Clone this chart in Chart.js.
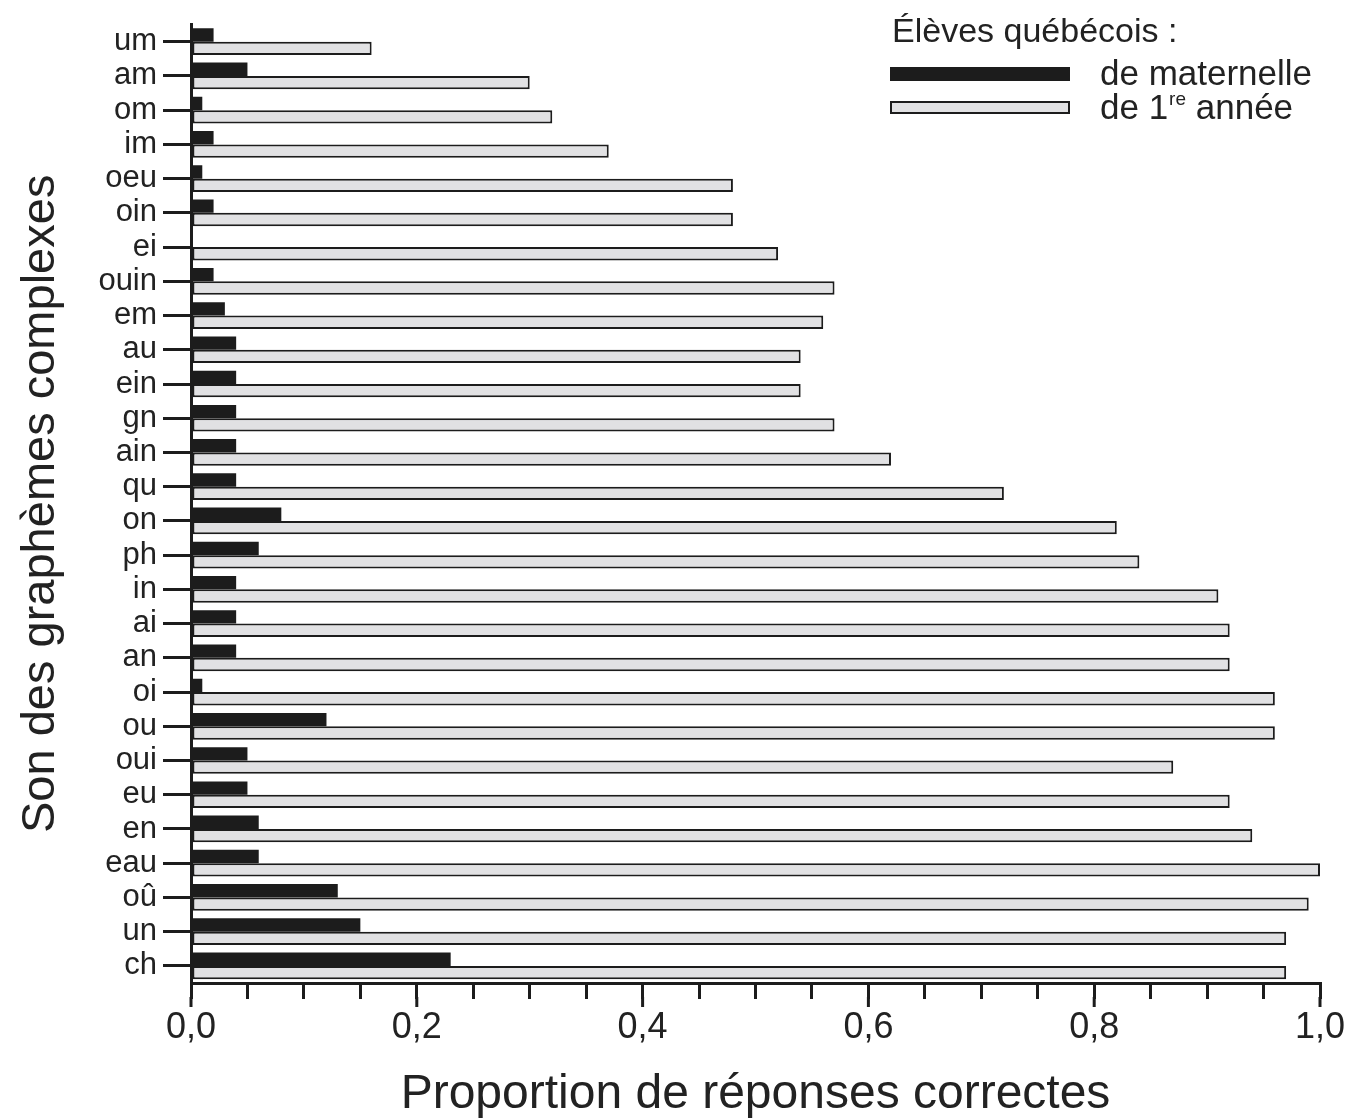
<!DOCTYPE html>
<html>
<head>
<meta charset="utf-8">
<script src="https://cdn.jsdelivr.net/npm/chart.js@4.4.1/dist/chart.umd.min.js"></script>
<style>
  body { margin: 0; background: #fff; }
  #wrap { width: 1349px; height: 1119px; }
</style>
</head>
<body>
<div id="wrap"><canvas id="chartSons" width="1349" height="1119"></canvas></div>
<script>
const sons = ["um", "am", "om", "im", "oeu", "oin", "ei", "ouin", "em", "au", "ein", "gn", "ain", "qu",
    "on", "ph", "in", "ai", "an", "oi", "ou", "oui", "eu", "en", "eau", "oû", "un", "ch"];
const maternelle = [0.02, 0.05, 0.01, 0.02, 0.01, 0.02, 0, 0.02, 0.03, 0.04, 0.04, 0.04, 0.04, 0.04,
    0.08, 0.06, 0.04, 0.04, 0.04, 0.01, 0.12, 0.05, 0.05, 0.06, 0.06, 0.13, 0.15, 0.23];
const premiere = [0.16, 0.30, 0.32, 0.37, 0.48, 0.48, 0.52, 0.57, 0.56, 0.54, 0.54, 0.57, 0.62, 0.72,
    0.82, 0.84, 0.91, 0.92, 0.92, 0.96, 0.96, 0.87, 0.92, 0.94, 1.00, 0.99, 0.97, 0.97];
const majorTicks = [0, 0.2, 0.4, 0.6, 0.8, 1.0];

const fontName = "'Liberation Sans', Arial, sans-serif";
const noir = "#1c1c1c";
const gris = "#e1e1e3";

// longer marks for the labelled ticks + the legend in the top right corner
const extrasPlugin = {
    id: "extras",
    afterDraw(chart) {
        const ctx = chart.ctx;
        const x = chart.scales.x;
        ctx.save();
        ctx.strokeStyle = noir;
        ctx.lineWidth = 3;
        majorTicks.forEach(v => {
            const px = x.getPixelForValue(v);
            ctx.beginPath();
            ctx.moveTo(px, x.top + 14);
            ctx.lineTo(px, x.top + 24);
            ctx.stroke();
        });

        ctx.fillStyle = "#222";
        ctx.textBaseline = "middle";
        ctx.font = "34px " + fontName;
        ctx.fillText("Élèves québécois :", 892, 33);

        ctx.fillStyle = noir;
        ctx.fillRect(890, 67, 180, 14);
        ctx.fillStyle = gris;
        ctx.fillRect(891, 102, 178, 11);
        ctx.lineWidth = 2;
        ctx.strokeStyle = noir;
        ctx.strokeRect(891, 102, 178, 11);

        ctx.fillStyle = "#222";
        ctx.font = "35px " + fontName;
        ctx.fillText("de maternelle", 1100, 75);
        let tx = 1100;
        ctx.fillText("de 1", tx, 109);
        tx += ctx.measureText("de 1").width;
        ctx.font = "19px " + fontName;
        ctx.fillText("re", tx + 1, 100);
        tx += ctx.measureText("re").width + 1;
        ctx.font = "35px " + fontName;
        ctx.fillText(" année", tx, 109);
        ctx.restore();
    }
};

new Chart(document.getElementById("chartSons"), {
    type: "bar",
    data: {
        labels: sons,
        datasets: [
            {
                label: "de maternelle",
                data: maternelle,
                backgroundColor: noir,
                borderColor: noir,
                borderWidth: 0,
                categoryPercentage: 0.78,
                barPercentage: 1.0
            },
            {
                label: "de 1re année",
                data: premiere,
                backgroundColor: gris,
                borderColor: noir,
                borderWidth: 2,
                borderSkipped: false,
                categoryPercentage: 0.78,
                barPercentage: 1.0
            }
        ]
    },
    options: {
        indexAxis: "y",
        responsive: false,
        animation: false,
        layout: { padding: { top: 22, right: 29, left: 0, bottom: 0 } },
        plugins: {
            legend: { display: false },
            tooltip: { enabled: false }
        },
        scales: {
            x: {
                type: "linear",
                min: 0,
                max: 1,
                afterFit: scale => {
                    scale.height = 136;
                    scale.paddingRight = 0;
                    scale.paddingLeft = 0;
                },
                border: { display: true, color: noir, width: 3 },
                grid: {
                    display: true,
                    drawOnChartArea: false,
                    drawTicks: true,
                    tickLength: 16,
                    color: noir,
                    lineWidth: 3
                },
                ticks: {
                    stepSize: 0.05,
                    autoSkip: false,
                    maxRotation: 0,
                    padding: 7,
                    color: "#222",
                    font: { family: fontName, size: 36 },
                    callback: v => {
                        const k = v * 5;
                        if (Math.abs(k - Math.round(k)) < 1e-6) {
                            return v.toFixed(1).replace(".", ",");
                        }
                        return "";
                    }
                },
                title: {
                    display: true,
                    text: "Proportion de réponses correctes",
                    color: "#222",
                    font: { family: fontName, size: 48, lineHeight: 1 },
                    padding: { top: 0, bottom: 0 }
                }
            },
            y: {
                type: "category",
                afterFit: scale => { scale.width = 191; },
                border: { display: true, color: noir, width: 3 },
                grid: {
                    display: true,
                    offset: false,
                    drawOnChartArea: false,
                    drawTicks: true,
                    tickLength: 28,
                    color: noir,
                    lineWidth: 3
                },
                ticks: {
                    autoSkip: false,
                    padding: 6,
                    color: "#222",
                    font: { family: fontName, size: 31 }
                },
                title: {
                    display: true,
                    text: "Son des graphèmes complexes",
                    color: "#222",
                    font: { family: fontName, size: 47, lineHeight: 1 },
                    padding: { top: 18, bottom: 0 }
                }
            }
        }
    },
    plugins: [extrasPlugin]
});
</script>
</body>
</html>
